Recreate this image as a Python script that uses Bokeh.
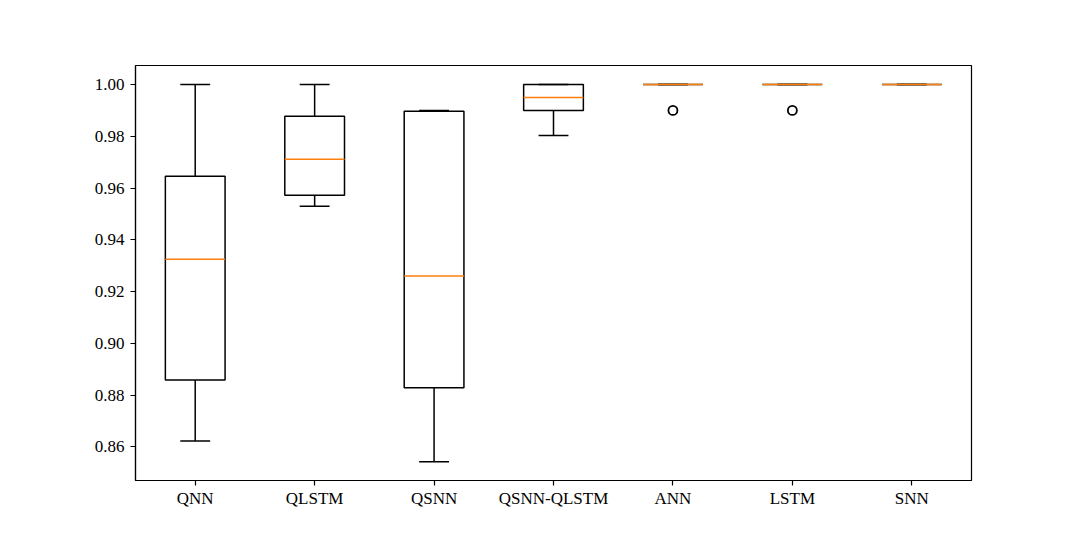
from bokeh.plotting import figure
from bokeh.models import Range1d, FixedTicker, ColumnDataSource
from bokeh.embed import file_html
from bokeh.resources import INLINE

categories = ["QNN", "QLSTM", "QSNN", "QSNN-QLSTM", "ANN", "LSTM", "SNN"]
whisker_low = [0.8623, 0.9530, 0.8542, 0.9803, 1.0, 1.0, 1.0]
q1 = [0.8858, 0.9572, 0.8828, 0.9900, 1.0, 1.0, 1.0]
median = [0.9325, 0.9711, 0.9260, 0.9950, 1.0, 1.0, 1.0]
q3 = [0.9645, 0.9877, 0.9897, 1.0, 1.0, 1.0, 1.0]
whisker_high = [1.0, 1.0, 0.9900, 1.0, 1.0, 1.0, 1.0]
outlier_cat = ["ANN", "LSTM"]
outlier_val = [0.99, 0.99]
y_ticks = [0.86, 0.88, 0.90, 0.92, 0.94, 0.96, 0.98, 1.00]

pos = [i + 1 for i in range(len(categories))]
box_w = 0.5
cap_w = 0.25

src = ColumnDataSource(dict(
    x=pos,
    left=[p_ - box_w / 2 for p_ in pos],
    right=[p_ + box_w / 2 for p_ in pos],
    cl=[p_ - cap_w / 2 for p_ in pos],
    cr=[p_ + cap_w / 2 for p_ in pos],
    lo=whisker_low, q1=q1, med=median, q3=q3, hi=whisker_high,
))
out_src = ColumnDataSource(dict(
    x=[categories.index(c) + 1 for c in outlier_cat],
    y=outlier_val,
))

FONT = "Liberation Serif"

p = figure(width=1064, height=524, output_backend="svg", toolbar_location=None,
           x_range=Range1d(0.5, 7.5), y_range=Range1d(0.84699, 1.00734),
           min_border_left=135, min_border_right=93, min_border_top=65,
           min_border_bottom=44)
p.background_fill_color = "white"
p.border_fill_color = "white"
p.outline_line_color = "black"
p.outline_line_width = 1.2
p.xgrid.visible = False
p.ygrid.visible = False

lw = 1.5
p.quad(left="left", right="right", bottom="q1", top="q3", source=src,
       fill_color=None, line_color="black", line_width=lw)
p.segment(x0="x", y0="lo", x1="x", y1="q1", source=src, line_color="black", line_width=lw)
p.segment(x0="x", y0="q3", x1="x", y1="hi", source=src, line_color="black", line_width=lw)
p.segment(x0="cl", y0="lo", x1="cr", y1="lo", source=src, line_color="black", line_width=lw)
p.segment(x0="cl", y0="hi", x1="cr", y1="hi", source=src, line_color="black", line_width=lw)
p.segment(x0="left", y0="med", x1="right", y1="med", source=src, line_color="#ff7f0e", line_width=lw)
p.scatter(x="x", y="y", source=out_src, marker="circle", size=9,
          fill_color=None, line_color="black", line_width=1.8)

p.xaxis.ticker = FixedTicker(ticks=pos)
p.xaxis.major_label_overrides = {p_: c for p_, c in zip(pos, categories)}
p.yaxis.ticker = FixedTicker(ticks=y_ticks)
p.yaxis.major_label_overrides = {t: f"{t:.2f}" for t in y_ticks}

for ax in (p.xaxis, p.yaxis):
    ax.major_tick_in = 0
    ax.major_tick_out = 5
    ax.minor_tick_line_color = None
    ax.major_tick_line_color = "black"
    ax.major_tick_line_width = 1.2
    ax.axis_line_color = "black"
    ax.axis_line_width = 1.2
    ax.major_label_text_font = FONT
    ax.major_label_text_font_size = "17px"
    ax.major_label_text_color = "black"
p.yaxis.major_label_standoff = 6
p.xaxis.major_label_standoff = 3

open("out.html", "w").write(file_html(p, INLINE))
